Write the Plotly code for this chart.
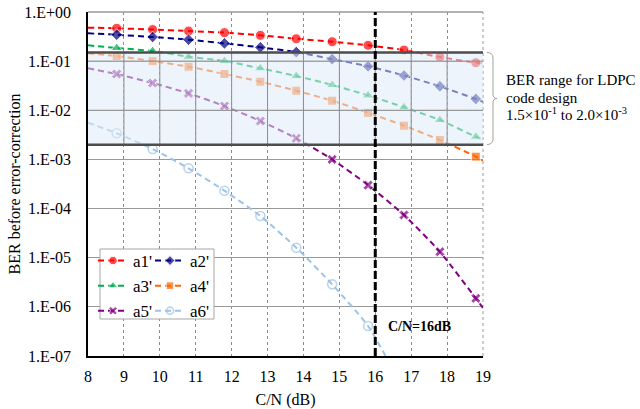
import plotly.graph_objects as go

# ---------------- data ----------------
cn = [8.8, 9.8, 10.8, 11.8, 12.8, 13.8, 14.8, 15.8, 16.8, 17.8, 18.8]

a1 = [0.466, 0.44, 0.41, 0.38, 0.335, 0.286, 0.249, 0.21, 0.168, 0.121, 0.093]
a2 = [0.345, 0.31, 0.273, 0.23, 0.191, 0.153, 0.11, 0.0785, 0.051, 0.0307, 0.017]
a3 = [0.185, 0.161, 0.123, 0.1007, 0.0714, 0.0499, 0.0327, 0.0201, 0.0115, 0.00634, 0.0029]
a4 = [0.127, 0.1, 0.077, 0.0547, 0.0382, 0.025, 0.0157, 0.0089, 0.00486, 0.00248, 0.00114]
a5 = [0.0547, 0.0359, 0.0221, 0.0122, 0.00605, 0.00269, 0.001, 0.0003, 7.4e-5, 1.32e-5, 1.49e-6]
a6 = [0.0034, 0.00163, 6.6e-4, 2.31e-4, 7.06e-5, 1.6e-5, 2.87e-6, 4.07e-7]

# dashed trend-line ends: (x_start, y_start, x_end, y_end)
line_ends = {
    "a1'": (8.0, 0.48, 19.0, 0.09),
    "a2'": (8.0, 0.368, 19.0, 0.0149),
    "a3'": (8.0, 0.21, 19.0, 0.0026),
    "a4'": (8.0, 0.144, 19.0, 0.00094),
    "a5'": (8.0, 0.0714, 19.0, 9.5e-7),
    "a6'": (8.0, 0.0056, 16.4, 7e-8),
}

names = ["a1'", "a2'", "a3'", "a4'", "a5'", "a6'"]
values = [a1, a2, a3, a4, a5, a6]
colors = ["#ff0000", "#000080", "#00b050", "#ff6600", "#800080", "#9dc3e6"]
symbols = ["circle", "diamond", "triangle-up", "square", "x", "circle-open"]
sizes = [10, 9, 10, 9, 9, 9]
legend_ids = ["legend", "legend2", "legend", "legend2", "legend", "legend2"]

x_ticks = list(range(8, 20))
y_tickvals = [1, 1e-1, 1e-2, 1e-3, 1e-4, 1e-5, 1e-6, 1e-7]
y_ticktext = ["1.E+00", "1.E-01", "1.E-02", "1.E-03", "1.E-04", "1.E-05", "1.E-06", "1.E-07"]

band_top = 1.5e-1
band_bottom = 2.0e-3
cn_mark = 16

FONT = "Liberation Serif"

# pixel geometry helpers (layout only)
W, H = 640, 409
L, R, T, B = 88, 157, 12, 53
PW, PH = W - L - R, H - T - B


def px(xp):
    return (xp - L) / PW


def py(yp):
    return 1 - (yp - T) / PH


fig = go.Figure()

for name, ys, col, sym, sz, lg in zip(names, values, colors, symbols, sizes, legend_ids):
    xs = list(cn[:len(ys)])
    x0, y0, x1, y1 = line_ends[name]
    xx = [x0] + xs + [x1]
    yy = [y0] + ys + [y1]
    msz = [0] + [sz] * len(ys) + [0]
    marker = dict(color=col, symbol=sym, size=msz)
    if sym.endswith("open"):
        marker["line"] = dict(color=col, width=1.6)
    fig.add_trace(go.Scatter(
        x=xx, y=yy, name=name, mode="lines+markers",
        line=dict(color=col, width=2, dash="6px,4px", shape="spline", smoothing=0.6),
        marker=marker, legend=lg, cliponaxis=True,
    ))

shapes = []
# light band for LDPC design range
shapes.append(dict(type="rect", xref="x", yref="y", x0=8, x1=19, y0=band_bottom, y1=band_top,
                   fillcolor="rgba(222,235,247,0.55)", line=dict(width=0), layer="above"))
# grid inside the band
for gx in x_ticks[1:-1]:
    shapes.append(dict(type="line", xref="x", yref="y", x0=gx, x1=gx, y0=band_bottom, y1=band_top,
                       line=dict(color="#8c8c8c", width=1), layer="above"))
for gy in [1e-1, 1e-2]:
    shapes.append(dict(type="line", xref="x", yref="y", x0=8, x1=19, y0=gy, y1=gy,
                       line=dict(color="#8c8c8c", width=1), layer="above"))
# band borders
for gy in [band_top, band_bottom]:
    shapes.append(dict(type="line", xref="x", yref="y", x0=8, x1=19, y0=gy, y1=gy,
                       line=dict(color="#4d4d4d", width=2.5), layer="above"))
# top / right frame
shapes.append(dict(type="line", xref="paper", yref="paper", x0=0, x1=1, y0=1, y1=1,
                   line=dict(color="#999999", width=1.5), layer="above"))
shapes.append(dict(type="line", xref="paper", yref="paper", x0=1, x1=1, y0=0, y1=1,
                   line=dict(color="#999999", width=1, dash="dot"), layer="below"))
# C/N = 16 dB marker line
shapes.append(dict(type="line", xref="x", yref="paper", x0=cn_mark, x1=cn_mark, y0=0, y1=1,
                   line=dict(color="black", width=3, dash="8px,3px"), layer="above"))
# curly bracket
path = "M {:.4f},{:.4f} Q {:.4f},{:.4f} {:.4f},{:.4f} L {:.4f},{:.4f} Q {:.4f},{:.4f} {:.4f},{:.4f} " \
       "Q {:.4f},{:.4f} {:.4f},{:.4f} L {:.4f},{:.4f} Q {:.4f},{:.4f} {:.4f},{:.4f}".format(
    px(487), py(52.5), px(493), py(52.5), px(493), py(58),
    px(493), py(94), px(493), py(98.5), px(497), py(98.5),
    px(493), py(98.5), px(493), py(103), px(493), py(139),
    px(493), py(144.5), px(487), py(144.5))
shapes.append(dict(type="path", xref="paper", yref="paper", path=path,
                   line=dict(color="#a0a0a0", width=1)))
# legend frame
shapes.append(dict(type="rect", xref="paper", yref="paper", x0=px(100), x1=px(214), y0=py(319), y1=py(249),
                   line=dict(color="#a6a6a6", width=1), fillcolor="white", layer="above"))

annotations = [
    dict(text="BER range for LDPC", xref="paper", yref="paper", x=px(504), y=py(80),
         xanchor="left", yanchor="middle", showarrow=False, font=dict(family=FONT, size=15, color="black")),
    dict(text="code design", xref="paper", yref="paper", x=px(504), y=py(97.5),
         xanchor="left", yanchor="middle", showarrow=False, font=dict(family=FONT, size=15, color="black")),
    dict(text="1.5\u00d710<sup>-1</sup> to 2.0\u00d710<sup>-3</sup>", xref="paper", yref="paper",
         x=px(504), y=py(114.5), xanchor="left", yanchor="middle", showarrow=False,
         font=dict(family=FONT, size=15, color="black")),
    dict(text="<b>C/N=16dB</b>", xref="paper", yref="paper", x=px(386), y=py(326),
         xanchor="left", yanchor="middle", showarrow=False, font=dict(family=FONT, size=14, color="black")),
]

legend_common = dict(font=dict(family=FONT, size=17, color="black"), bgcolor="rgba(0,0,0,0)",
                     borderwidth=0, orientation="v", xanchor="left", yanchor="top",
                     tracegroupgap=0, itemwidth=30)

fig.update_layout(
    width=W, height=H,
    margin=dict(l=L, r=R, t=T, b=B, autoexpand=False),
    paper_bgcolor="white", plot_bgcolor="white",
    font=dict(family=FONT, size=16, color="black"),
    shapes=shapes, annotations=annotations,
    legend=dict(x=px(93), y=py(243), **legend_common),
    legend2=dict(x=px(150), y=py(243), **legend_common),
    xaxis=dict(range=[8, 19], tickvals=x_ticks, ticktext=[str(v) for v in x_ticks],
               showgrid=True, gridcolor="#8c8c8c", griddash="dot", gridwidth=1, automargin=False,
               showline=True, linecolor="black", linewidth=1.5, ticks="", zeroline=False,
               tickfont=dict(family=FONT, size=16), ticklabelstandoff=5,
               title=dict(text="C/N (dB)", font=dict(family=FONT, size=16), standoff=17)),
    yaxis=dict(type="log", range=[-7, 0], tickvals=y_tickvals, ticktext=y_ticktext,
               showgrid=True, gridcolor="#999999", gridwidth=1, automargin=False,
               showline=True, linecolor="black", linewidth=1.5, ticks="", zeroline=False,
               tickfont=dict(family=FONT, size=16), ticklabelstandoff=12,
               title=dict(text="BER before error-correction", font=dict(family=FONT, size=16), standoff=0)),
)

fig.write_html("out.html")
